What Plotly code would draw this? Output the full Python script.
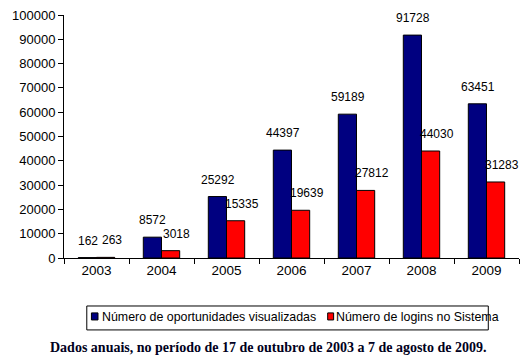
import plotly.graph_objects as go

years = ["2003", "2004", "2005", "2006", "2007", "2008", "2009"]
oportunidades = [162, 8572, 25292, 44397, 59189, 91728, 63451]
logins = [263, 3018, 15335, 19639, 27812, 44030, 31283]
y_ticks = [0, 10000, 20000, 30000, 40000, 50000, 60000, 70000, 80000, 90000, 100000]
series_names = ["Número de oportunidades visualizadas", "Número de logins no Sistema"]
series_colors = ["#000080", "#ff0000"]
caption = "Dados anuais, no período de 17 de outubro de 2003 a 7 de agosto de 2009."

fig = go.Figure()
for vals, name, color in zip([oportunidades, logins], series_names, series_colors):
    fig.add_trace(go.Bar(
        x=years, y=vals, name=name, showlegend=False,
        marker=dict(color=color, line=dict(color="black", width=1)),
    ))

annotations = []
# value labels (blue centred over its bar, red nudged right like the original)
for vals, xs in [(oportunidades, -9), (logins, 15)]:
    for i, v in enumerate(vals):
        annotations.append(dict(
            x=i, y=v, xref="x", yref="y", text=str(v), showarrow=False,
            xanchor="center", yanchor="bottom", xshift=xs, yshift=8,
            font=dict(family="Arial", size=12, color="black"),
        ))

# manual legend (compact, like the Excel original)
shapes = [dict(type="rect", xref="paper", yref="paper", x0=0.0501, x1=0.9325,
               y0=-0.1975, y1=-0.296, line=dict(color="black", width=1),
               fillcolor="white", layer="above")]
leg_sq = [(0.0603, 0.0747), (0.5795, 0.5926)]
leg_tx = [0.079, 0.594]
for (x0, x1), tx, name, color in zip(leg_sq, leg_tx, series_names, series_colors):
    shapes.append(dict(type="rect", xref="paper", yref="paper", x0=x0, x1=x1,
                       y0=-0.226, y1=-0.255, line=dict(color="black", width=1),
                       fillcolor=color, layer="above"))
    annotations.append(dict(
        x=tx, y=-0.241, xref="paper", yref="paper", text=name, showarrow=False,
        xanchor="left", yanchor="middle",
        font=dict(family="Arial", size=12.4, color="black"),
    ))

annotations.append(dict(
    text="<b>" + caption + "</b>",
    xref="paper", yref="paper", x=0.449, y=-0.368, xanchor="center", yanchor="middle",
    showarrow=False, font=dict(family="Liberation Serif", size=14, color="#000020"),
))

# the page body adds an 8px margin, so the figure is sized to fill the rest of the window
fig.update_layout(
    width=523, height=351,
    margin=dict(l=56, r=12, t=7, b=101),
    paper_bgcolor="white", plot_bgcolor="white",
    barmode="group", bargap=0.44, bargroupgap=0,
    font=dict(family="Arial", size=13, color="black"),
    showlegend=False,
    xaxis=dict(
        type="category", categoryorder="array", categoryarray=years,
        range=[-0.5, len(years) - 0.5],
        showline=True, linecolor="black", linewidth=1,
        ticks="outside", tickson="boundaries", ticklen=5, tickcolor="black",
        tickfont=dict(size=13.5), showgrid=False, tickangle=0, automargin=False,
    ),
    yaxis=dict(
        range=[0, 100000], tickvals=y_ticks, ticktext=[str(v) for v in y_ticks],
        showline=True, linecolor="black", linewidth=1,
        ticks="outside", ticklen=5, tickcolor="black", ticklabeloverflow="allow",
        showgrid=False, zeroline=False, tickfont=dict(size=13), automargin=False,
    ),
    shapes=shapes,
    annotations=annotations,
)

fig.write_html("out.html")
